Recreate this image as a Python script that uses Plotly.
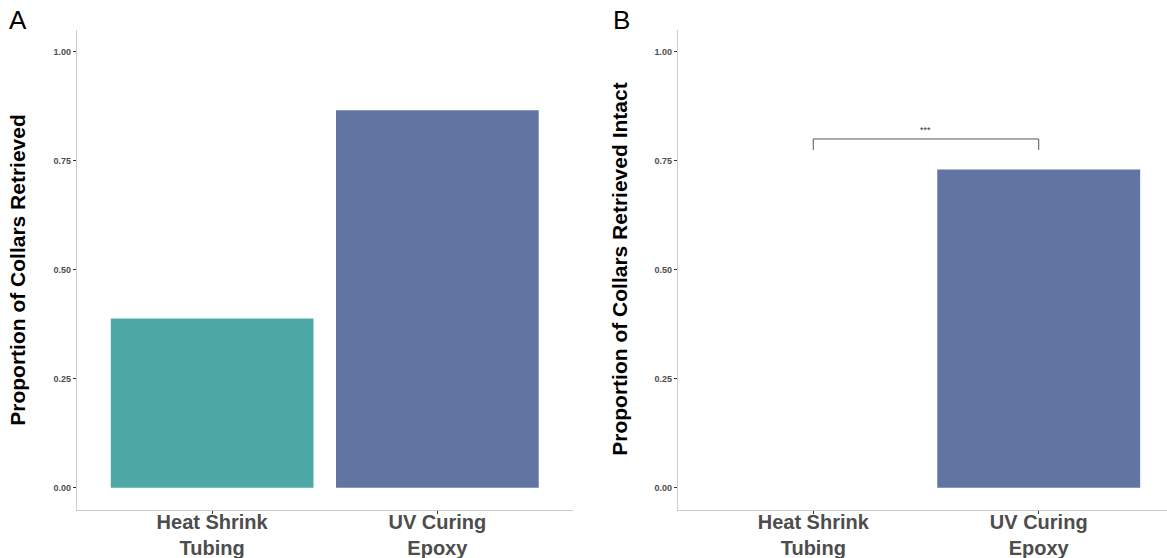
import plotly.graph_objects as go

categories = ["Heat Shrink<br>Tubing", "UV Curing<br>Epoxy"]
retrieved = [0.388, 0.866]
retrieved_intact = [0.0, 0.730]
bar_colors = ["#4EA8A5", "#6274A2"]
y_ticks = [0.0, 0.25, 0.5, 0.75, 1.0]
y_tick_labels = ["0.00", "0.25", "0.50", "0.75", "1.00"]
bracket_y = 0.80
bracket_drop = 0.025
sig_label = "***"

FONT = "Liberation Sans, Arial, Helvetica, sans-serif"

fig = go.Figure()
fig.add_trace(go.Bar(x=categories, y=retrieved, marker=dict(color=bar_colors, line=dict(width=0)),
                     width=0.9, xaxis="x", yaxis="y", showlegend=False))
fig.add_trace(go.Bar(x=categories, y=retrieved_intact, marker=dict(color=bar_colors, line=dict(width=0)),
                     width=0.9, xaxis="x2", yaxis="y2", showlegend=False))

W, H = 1167, 558
ydom = [1 - 509.5 / H, 1 - 30 / H]
xaxis_common = dict(type="category", showline=True, linecolor="#CCCCCC", linewidth=1.2,
                    ticks="outside", ticklen=3, tickcolor="#333333", showgrid=False, zeroline=False,
                    tickfont=dict(family=FONT, size=20, color="#4D4D4D", weight="bold"),
                    ticklabelstandoff=-9,
                    fixedrange=True, automargin=False)
yaxis_common = dict(range=[-0.05, 1.05], tickvals=y_ticks, ticktext=y_tick_labels, showline=True,
                    linecolor="#CCCCCC", linewidth=1.2, ticks="outside", ticklen=3, tickcolor="#333333",
                    showgrid=False, zeroline=False, domain=ydom, automargin=False, fixedrange=True,
                    tickfont=dict(family=FONT, size=9, color="#4D4D4D", weight="bold"))

fig.update_layout(
    width=W, height=H, margin=dict(l=0, r=0, t=0, b=0, autoexpand=False),
    plot_bgcolor="white", paper_bgcolor="white", bargap=0.1,
    xaxis=dict(domain=[77 / W, 572.5 / W], anchor="y", range=[-0.6, 1.6], **xaxis_common),
    yaxis=dict(anchor="x", **yaxis_common),
    xaxis2=dict(domain=[678 / W, 1.0], anchor="y2", range=[-0.6, 1.569], **xaxis_common),
    yaxis2=dict(anchor="x2", **yaxis_common),
)

# significance bracket in panel B
x0, x1 = 0, 1
for seg in [(x0, bracket_y - bracket_drop, x0, bracket_y), (x0, bracket_y, x1, bracket_y),
            (x1, bracket_y, x1, bracket_y - bracket_drop)]:
    fig.add_shape(type="line", xref="x2", yref="y2", x0=seg[0], y0=seg[1], x1=seg[2], y1=seg[3],
                  line=dict(color="#555555", width=1))
fig.add_annotation(xref="x2", yref="y2", x=0.5, y=bracket_y, text=sig_label, showarrow=False,
                   yanchor="bottom", yshift=2, font=dict(family=FONT, size=9, color="#333333"))

# axis titles
ymid = (ydom[0] + ydom[1]) / 2
fig.add_annotation(xref="paper", yref="paper", x=18 / W, y=ymid, xanchor="center", yanchor="middle",
                   text="Proportion of Collars Retrieved", textangle=-90, showarrow=False,
                   font=dict(family=FONT, size=21, color="black", weight="bold"))
fig.add_annotation(xref="paper", yref="paper", x=620 / W, y=ymid, xanchor="center", yanchor="middle",
                   text="Proportion of Collars Retrieved Intact", textangle=-90, showarrow=False,
                   font=dict(family=FONT, size=21, color="black", weight="bold"))

# panel labels
fig.add_annotation(xref="paper", yref="paper", x=18 / W, y=1 - 20 / H, xanchor="center", yanchor="middle",
                   text="A", showarrow=False, font=dict(family=FONT, size=26, color="black"))
fig.add_annotation(xref="paper", yref="paper", x=621 / W, y=1 - 20 / H, xanchor="center", yanchor="middle",
                   text="B", showarrow=False, font=dict(family=FONT, size=26, color="black"))

fig.write_html("out.html", config={"displayModeBar": False, "staticPlot": True})

# remove the default page margin so the figure sits at the window's corner
with open("out.html", "r", encoding="utf-8") as f:
    html = f.read()
html = html.replace("<body>", '<body style="margin:0;padding:0;">', 1)
html = html.replace("<head>", "<head><style>html,body{margin:0;padding:0;overflow:hidden;}</style>", 1)
with open("out.html", "w", encoding="utf-8") as f:
    f.write(html)
